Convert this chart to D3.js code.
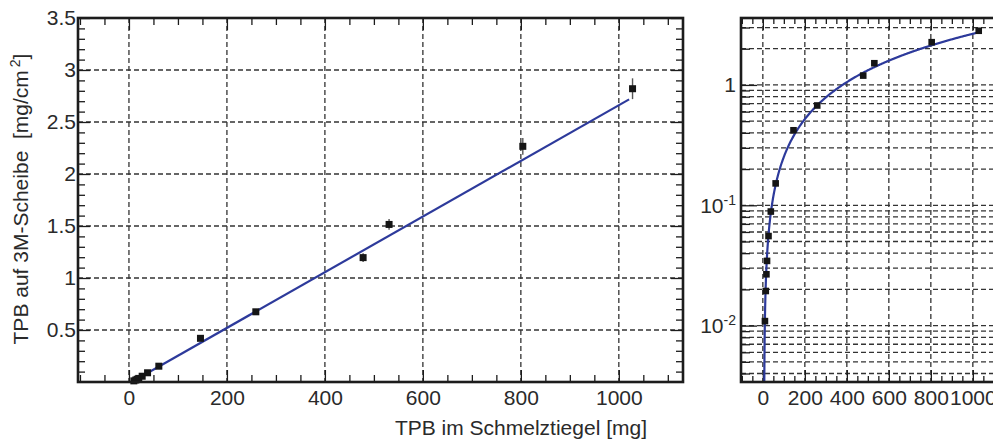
<!DOCTYPE html>
<html><head><meta charset="utf-8">
<script src="https://cdn.jsdelivr.net/npm/d3@7"></script>
<style>
html,body{margin:0;padding:0;background:#fff;}
svg{display:block;font-family:"Liberation Sans",Arial,Helvetica,sans-serif;}
</style></head>
<body>
<svg id="c" width="993" height="444"></svg>
<script>
// ---- data ----
const tpbCrucible = [10, 14, 17, 20, 27, 38, 61, 146, 259, 478, 531, 804, 1028];      // mg
const tpbDisk     = [0.0109, 0.0194, 0.0267, 0.0345, 0.0555, 0.0887, 0.152, 0.42, 0.675, 1.196, 1.515, 2.266, 2.82]; // mg/cm^2
const tpbDiskErr  = [0.0005, 0.0008, 0.001, 0.0012, 0.002, 0.003, 0.006, 0.015, 0.024, 0.042, 0.052, 0.08, 0.1];
const fitSlope = 0.002677;   // linear fit y = slope*(x - x0)
const fitX0 = 5.7;
const fitXEnd = 1021;

const xTicksMajor = [0, 200, 400, 600, 800, 1000];
const xTicksMinor = [-100, -50, 50, 100, 150, 250, 300, 350, 450, 500, 550, 650, 700, 750, 850, 900, 950, 1050, 1100];
const yTicksMajor = [0.5, 1, 1.5, 2, 2.5, 3, 3.5];
const yTicksMinor = [0.1,0.2,0.3,0.4,0.6,0.7,0.8,0.9,1.1,1.2,1.3,1.4,1.6,1.7,1.8,1.9,2.1,2.2,2.3,2.4,2.6,2.7,2.8,2.9,3.1,3.2,3.3,3.4];
const logTicksMajor = [0.01, 0.1, 1];
const logTickLabels = [["10","-2"], ["10","-1"], ["1",""]];
const logTicksMinor = [0.004,0.005,0.006,0.007,0.008,0.009,0.02,0.03,0.04,0.05,0.06,0.07,0.08,0.09,0.2,0.3,0.4,0.5,0.6,0.7,0.8,0.9,2,3];

const xTitle = "TPB im Schmelztiegel [mg]";
const yTitle = "TPB auf 3M-Scheibe\u00a0\u00a0[mg/cm";

// ---- layout ----
const svg = d3.select("#c");
const FS = 21;
const gridColor = "#333";
const frameColor = "#1c1c1c";
const lineColor = "#2d3a9b";
const yTop = 18, yBot = 382;

const data = tpbCrucible.map((x, i) => ({x, y: tpbDisk[i], e: tpbDiskErr[i]}));

// ---------- left (linear) panel ----------
const L = {x0: 78, x1: 683};
const xL = d3.scaleLinear().domain([-104, 1131]).range([L.x0, L.x1]);
const yL = d3.scaleLinear().domain([0, 3.5]).range([yBot, yTop]);

const gL = svg.append("g");
// grid
gL.append("g").selectAll("line").data(xTicksMajor).join("line")
  .attr("x1", d => xL(d)).attr("x2", d => xL(d)).attr("y1", yTop).attr("y2", yBot)
  .attr("stroke", gridColor).attr("stroke-width", 1.3).attr("stroke-dasharray", "5,3");
gL.append("g").selectAll("line").data(yTicksMajor.filter(d => d < 3.5)).join("line")
  .attr("x1", L.x0).attr("x2", L.x1).attr("y1", d => yL(d)).attr("y2", d => yL(d))
  .attr("stroke", gridColor).attr("stroke-width", 1.3).attr("stroke-dasharray", "5,3");

function styleAxis(g) {
  g.select(".domain").remove();
  g.selectAll(".tick line").attr("stroke", frameColor).attr("stroke-width", 1.3);
  g.selectAll(".tick text").attr("font-size", FS).attr("fill", "#2a2a2a")
    .attr("font-family", '"Liberation Sans",Arial,sans-serif');
}
// axes (ticks inside, both sides)
gL.append("g").attr("transform", `translate(0,${yBot})`)
  .call(d3.axisBottom(xL).tickValues(xTicksMajor).tickSize(-12).tickPadding(8).tickFormat(d3.format("d"))).call(styleAxis);
gL.append("g").attr("transform", `translate(0,${yBot})`)
  .call(d3.axisBottom(xL).tickValues(xTicksMinor).tickSize(-7).tickFormat("")).call(styleAxis);
gL.append("g").attr("transform", `translate(0,${yTop})`)
  .call(d3.axisTop(xL).tickValues(xTicksMajor).tickSize(-12).tickFormat("")).call(styleAxis);
gL.append("g").attr("transform", `translate(0,${yTop})`)
  .call(d3.axisTop(xL).tickValues(xTicksMinor).tickSize(-7).tickFormat("")).call(styleAxis);
gL.append("g").attr("transform", `translate(${L.x0},0)`)
  .call(d3.axisLeft(yL).tickValues(yTicksMajor).tickSize(-12).tickPadding(2).tickFormat(d => String(d))).call(styleAxis);
gL.append("g").attr("transform", `translate(${L.x0},0)`)
  .call(d3.axisLeft(yL).tickValues(yTicksMinor).tickSize(-7).tickFormat("")).call(styleAxis);
gL.append("g").attr("transform", `translate(${L.x1},0)`)
  .call(d3.axisRight(yL).tickValues(yTicksMajor).tickSize(-12).tickFormat("")).call(styleAxis);
gL.append("g").attr("transform", `translate(${L.x1},0)`)
  .call(d3.axisRight(yL).tickValues(yTicksMinor).tickSize(-7).tickFormat("")).call(styleAxis);

// clip
const defs = svg.append("defs");
defs.append("clipPath").attr("id", "clipL").append("rect")
  .attr("x", L.x0).attr("y", yTop).attr("width", L.x1 - L.x0).attr("height", yBot - yTop);
// fit line
gL.append("path").attr("clip-path", "url(#clipL)")
  .datum([fitX0, fitXEnd])
  .attr("d", d3.line().x(d => xL(d)).y(d => yL(fitSlope * (d - fitX0))))
  .attr("fill", "none").attr("stroke", lineColor).attr("stroke-width", 2.2);
// error bars
gL.append("g").selectAll("line").data(data).join("line")
  .attr("x1", d => xL(d.x)).attr("x2", d => xL(d.x))
  .attr("y1", d => yL(d.y - d.e)).attr("y2", d => yL(d.y + d.e))
  .attr("stroke", "#555").attr("stroke-width", 1.4);
// markers
gL.append("g").selectAll("rect").data(data).join("rect")
  .attr("x", d => xL(d.x) - 3.5).attr("y", d => yL(d.y) - 3.5)
  .attr("width", 7).attr("height", 7).attr("fill", "#151515");
// frame
gL.append("rect").attr("x", L.x0).attr("y", yTop).attr("width", L.x1 - L.x0).attr("height", yBot - yTop)
  .attr("fill", "none").attr("stroke", frameColor).attr("stroke-width", 2.6);

// titles
svg.append("text").attr("x", 647).attr("y", 435).attr("text-anchor", "end")
  .attr("font-size", FS).attr("fill", "#2a2a2a").text(xTitle);
const yt = svg.append("text").attr("transform", "translate(28,199) rotate(-90)")
  .attr("text-anchor", "middle").attr("font-size", FS).attr("fill", "#2a2a2a");
yt.append("tspan").text(yTitle);
yt.append("tspan").attr("font-size", 14).attr("dy", -8).attr("dx", 3).text("2");
yt.append("tspan").attr("dy", 8).text("]");

// ---------- right (log) panel ----------
const R = {x0: 741};
const xR = d3.scaleLinear().domain([-104, 1131]).range([R.x0, R.x0 + 1235 * 0.21]);
R.x1 = xR(1131);
const yR = d3.scaleLog().domain([0.0034, 3.6]).range([yBot, yTop]);
const gR = svg.append("g");

gR.append("g").selectAll("line").data(xTicksMajor).join("line")
  .attr("x1", d => xR(d)).attr("x2", d => xR(d)).attr("y1", yTop).attr("y2", yBot)
  .attr("stroke", gridColor).attr("stroke-width", 1.3).attr("stroke-dasharray", "5,3");
gR.append("g").selectAll("line").data(logTicksMajor.concat(logTicksMinor)).join("line")
  .attr("x1", R.x0).attr("x2", R.x1).attr("y1", d => yR(d)).attr("y2", d => yR(d))
  .attr("stroke", gridColor).attr("stroke-width", 1.3).attr("stroke-dasharray", "5,3");

gR.append("g").attr("transform", `translate(0,${yBot})`)
  .call(d3.axisBottom(xR).tickValues(xTicksMajor).tickSize(-12).tickPadding(8).tickFormat(d3.format("d"))).call(styleAxis);
gR.append("g").attr("transform", `translate(0,${yBot})`)
  .call(d3.axisBottom(xR).tickValues(xTicksMinor).tickSize(-6).tickFormat("")).call(styleAxis);
gR.append("g").attr("transform", `translate(0,${yTop})`)
  .call(d3.axisTop(xR).tickValues(xTicksMajor).tickSize(-12).tickFormat("")).call(styleAxis);
gR.append("g").attr("transform", `translate(0,${yTop})`)
  .call(d3.axisTop(xR).tickValues(xTicksMinor).tickSize(-6).tickFormat("")).call(styleAxis);
const yAxR = gR.append("g").attr("transform", `translate(${R.x0},0)`)
  .call(d3.axisLeft(yR).tickValues(logTicksMajor).tickSize(-16).tickPadding(5).tickFormat(d => "")).call(styleAxis);
yAxR.selectAll(".tick text").each(function(d) {
  const t = d3.select(this);
  const lab = logTickLabels[logTicksMajor.indexOf(d)];
  t.append("tspan").text(lab[0]);
  if (lab[1]) t.append("tspan").attr("font-size", 14).attr("dy", -8).text(lab[1]);
});
gR.append("g").attr("transform", `translate(${R.x0},0)`)
  .call(d3.axisLeft(yR).tickValues(logTicksMinor).tickSize(-9).tickFormat("")).call(styleAxis);

defs.append("clipPath").attr("id", "clipR").append("rect")
  .attr("x", R.x0).attr("y", yTop).attr("width", R.x1 - R.x0).attr("height", yBot - yTop);
const curveX = d3.range(fitX0 + 0.05, 20, 0.05).concat(d3.range(20, fitXEnd + 0.1, 2));
gR.append("path").attr("clip-path", "url(#clipR)")
  .datum(curveX)
  .attr("d", d3.line().x(d => xR(d)).y(d => yR(fitSlope * (d - fitX0))))
  .attr("fill", "none").attr("stroke", lineColor).attr("stroke-width", 2.2);
gR.append("g").attr("clip-path", "url(#clipR)").selectAll("line").data(data).join("line")
  .attr("x1", d => xR(d.x)).attr("x2", d => xR(d.x))
  .attr("y1", d => yR(d.y - d.e)).attr("y2", d => yR(d.y + d.e))
  .attr("stroke", "#555").attr("stroke-width", 1.4);
gR.append("g").attr("clip-path", "url(#clipR)").selectAll("rect").data(data).join("rect")
  .attr("x", d => xR(d.x) - 3.3).attr("y", d => yR(d.y) - 3.3)
  .attr("width", 6.6).attr("height", 6.6).attr("fill", "#151515");
gR.append("rect").attr("x", R.x0).attr("y", yTop).attr("width", R.x1 - R.x0).attr("height", yBot - yTop)
  .attr("fill", "none").attr("stroke", frameColor).attr("stroke-width", 2.6);
</script>
</body></html>
